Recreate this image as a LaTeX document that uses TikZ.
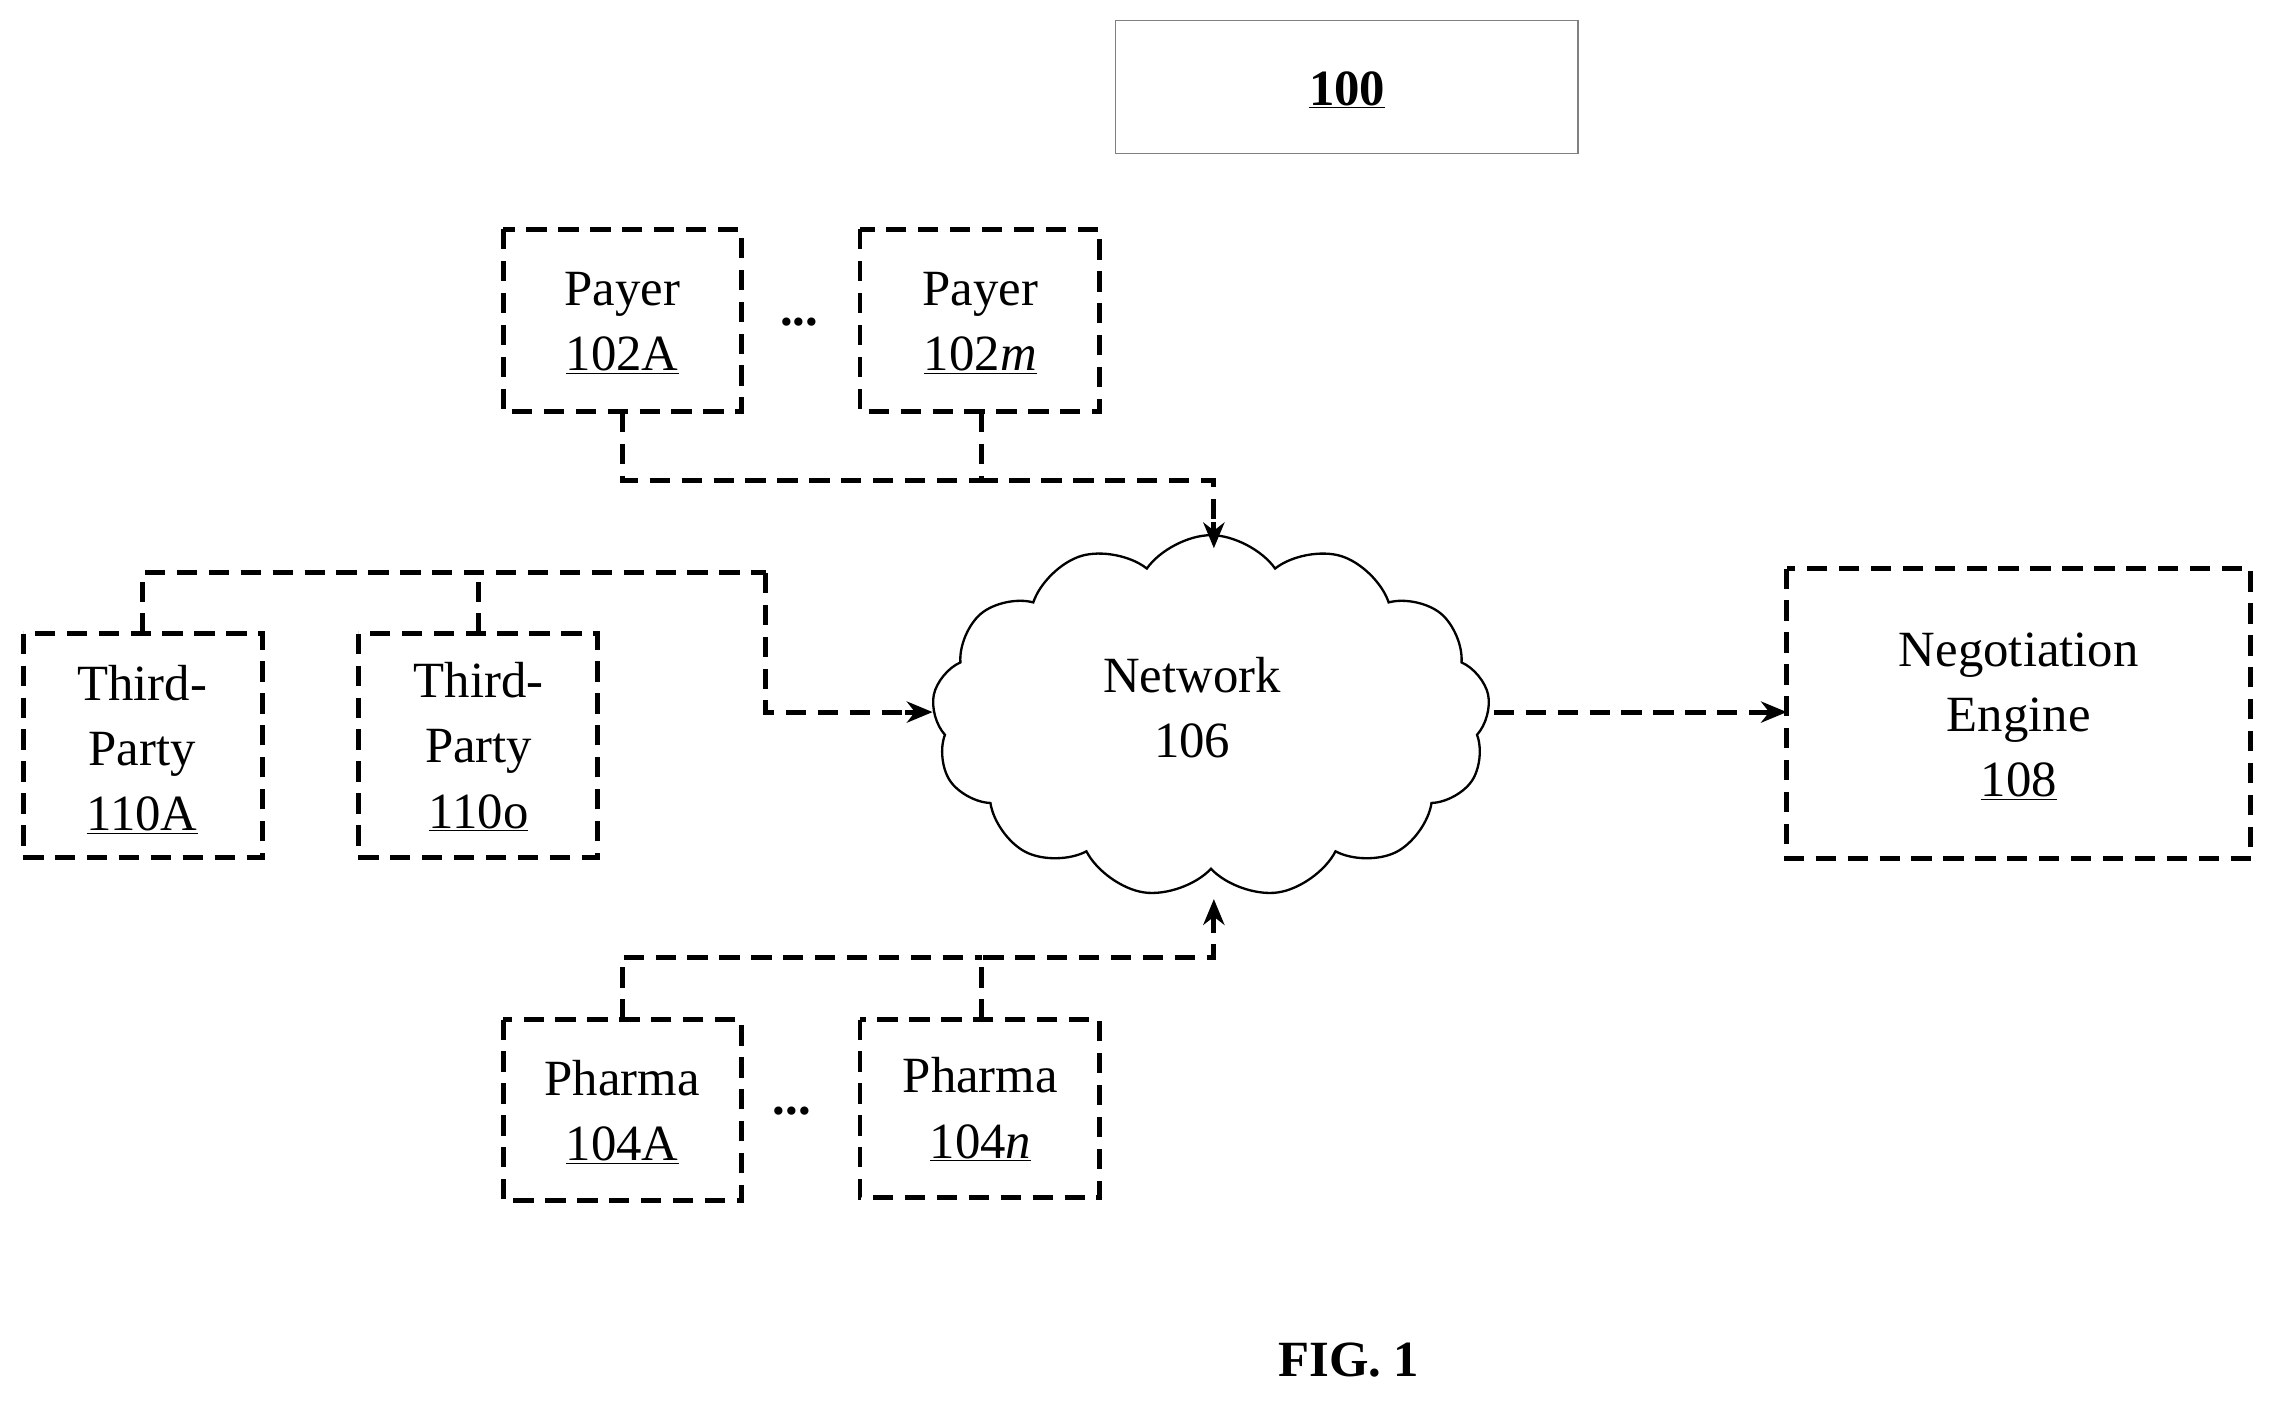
\documentclass[tikz,border=0pt]{standalone}
\usepackage{fontspec}
\setmainfont{Liberation Serif}
\usetikzlibrary{shapes.symbols,arrows.meta}
\begin{document}
\begin{tikzpicture}[x=1pt,y=-1pt,
  dbox/.style={draw,line width=3.4pt,dash pattern=on 14pt off 8pt},
  conn/.style={line width=3.4pt,dash pattern=on 14pt off 8pt},
  arr/.style={conn,-{Stealth[length=18pt,width=15pt,line width=0pt]}},
  txt/.style={font=\fontsize{35}{45}\selectfont,align=center}]
\useasboundingbox (0,0) rectangle (1568,966);
\draw[line width=1pt,draw=gray] (769,14) rectangle (1088,106);
\node[font=\fontsize{35}{45}\selectfont\bfseries] (t100) at (929,62) {\underline{100}};
% payers
\draw[dbox] (347,158) rectangle (511,284);
\node[txt] (pa) at (429,223) {Payer\\\underline{102A}};
\draw[dbox] (593,158) rectangle (758,284);
\node[txt] (pm) at (676,223) {Payer\\\underline{102\textit{m}}};
\node[txt] (d1) at (551,222) {\textbf{...}};
% third parties
\draw[dbox] (16,437) rectangle (181,591);
\node[txt] (ta) at (98,517) {Third-\\Party\\\underline{110A}};
\draw[dbox] (247,437) rectangle (412,591);
\node[txt] (to) at (330,515) {Third-\\Party\\\underline{110o}};
% pharma
\draw[dbox] (347,703) rectangle (511,828);
\node[txt] (ha) at (429,767) {Pharma\\\underline{104A}};
\draw[dbox] (593,703) rectangle (758,826);
\node[txt] (hn) at (676,765) {Pharma\\\underline{104\textit{n}}};
\node[txt] (d2) at (546,766) {\textbf{...}};
% cloud
\node[cloud,draw,line width=1.6pt,cloud puffs=13,cloud puff arc=110,minimum width=385pt,minimum height=250pt,aspect=1.55] (net) at (835,494) {};
\node[txt] (nt) at (822,488) {Network\\106};
% negotiation
\draw[dbox] (1232,392) rectangle (1552,592);
\node[txt] (ne) at (1392,494) {Negotiation\\Engine\\\underline{108}};
% connectors
\coordinate (a1) at (429,284); \coordinate (a2) at (677,284);
\draw[conn] (a1) -- (429,331) -- (677,331);
\draw[conn] (a2) -- (677,331) -- (837,331) -- (837,362);
\draw[arr,solid] (837,360) -- (837,378);
\draw[conn] (98,437) -- (98,395) -- (528,395);
\draw[conn] (330,437) -- (330,395);
\draw[conn] (528,395) -- (528,491) -- (626,491);
\draw[arr,solid] (624,491) -- (643,491);
\draw[conn] (429,703) -- (429,660) -- (677,660);
\draw[conn] (677,703) -- (677,660) -- (837,660) -- (837,638);
\draw[arr,solid] (837,640) -- (837,620);
\draw[conn] (1030,491) -- (1214,491);
\draw[arr,solid] (1212,491) -- (1232,491);
\node[font=\fontsize{35}{45}\selectfont\bfseries] (fig) at (930,938) {FIG. 1};
\end{tikzpicture}
\end{document}
